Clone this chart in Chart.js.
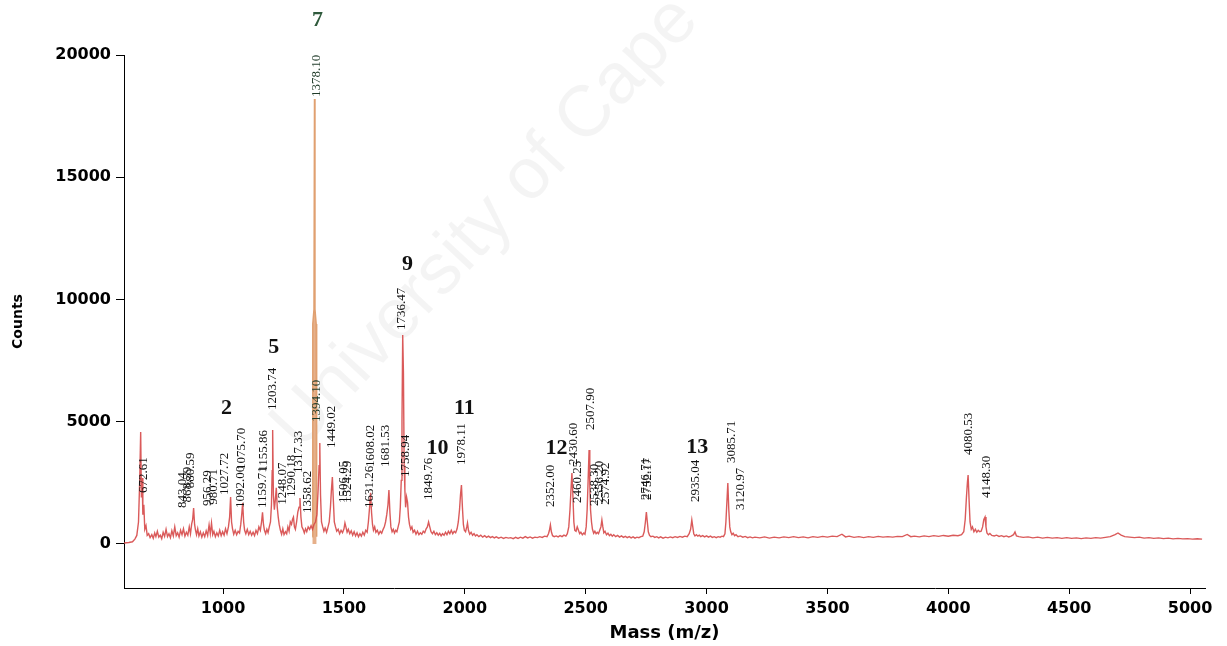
<!DOCTYPE html>
<html>
<head>
<meta charset="utf-8">
<script src="https://cdn.jsdelivr.net/npm/chart.js@4.4.1/dist/chart.umd.min.js"></script>
<style>
  body { margin: 0; background: #fff; }
  #wrap { width: 1227px; height: 646px; }
</style>
</head>
<body>
<div id="wrap"><canvas id="myChart" width="1227" height="646"></canvas></div>
<script>
// spectrum: [mass, counts]
var spectrum = [
  [590,40],[610,60],[625,90],[635,200],[643,350],[650,900],[655,2600],[659,4580],[662,1900],[665,2700],[668,1200],[672,1600],[676,600],[681,750],[686,350],[692,420],[698,260],
  [705,380],[711,230],[717,450],[722,300],[728,520],[734,280],[740,360],[746,220],[752,480],[758,310],[764,600],[770,300],[776,420],[782,260],[788,540],[794,330],[800,700],[806,340],[812,460],[818,280],[824,560],[830,380],[836,620],[842,320],[848,480],[854,360],[860,700],[865,420],[870,820],[874,1000],[878,1470],[882,800],[886,560],[890,380],[895,620],[900,330],[906,500],[912,280],[918,460],[924,300],[930,540],[936,350],[942,780],[947,420],[952,860],[957,380],[962,520],[968,300],[974,460],[980,330],[986,560],[992,340],[998,500],
  [1004,360],[1010,620],[1016,420],[1022,700],[1027,1100],[1031,1920],[1035,900],[1039,620],[1044,400],[1050,560],[1056,380],[1062,520],[1068,450],[1073,800],[1077,1200],[1081,1680],[1085,900],[1089,560],[1094,420],[1100,600],[1106,380],[1112,520],[1118,360],[1124,480],[1130,340],[1136,560],[1142,420],[1148,700],[1154,560],[1159,900],[1163,1300],[1167,800],[1171,560],[1176,420],[1181,600],[1186,460],[1191,700],[1196,900],
  [1200,1600],[1203,3000],[1205,4660],[1208,2000],[1212,1400],[1216,1800],[1220,2300],[1224,1500],[1228,1100],[1232,800],[1237,560],[1242,400],[1247,620],[1252,380],[1258,500],[1263,420],[1268,700],[1273,520],[1278,900],[1283,800],[1287,1000],[1291,1100],[1295,700],[1299,600],[1304,900],[1309,1300],[1314,1500],[1318,1880],[1322,1100],[1326,700],[1331,600],[1336,450],[1341,620],[1346,500],[1352,700],[1358,600],[1364,750],[1370,600],[1376,800],[1382,900],[1388,1200],[1393,2200],[1397,3200],
  [1400,4130],[1403,2000],[1407,900],[1412,700],[1417,520],[1422,650],[1428,480],[1434,700],[1439,900],[1444,1500],[1448,2200],[1452,2740],[1456,1800],[1460,900],[1465,700],[1470,520],[1476,600],[1482,420],[1488,560],[1494,460],[1500,620],[1504,860],[1508,700],[1513,480],[1518,600],[1524,420],[1530,540],[1536,360],[1542,500],[1548,330],[1554,460],[1560,300],[1566,420],[1572,320],[1578,480],[1584,360],[1590,560],[1596,480],
  [1601,900],[1606,1500],[1610,2090],[1614,1300],[1618,800],[1622,560],[1627,700],[1632,480],[1638,560],[1644,400],[1650,520],[1656,440],[1662,600],[1667,700],[1672,900],[1677,1200],[1682,1600],[1686,2210],[1690,1300],[1694,700],[1699,500],[1704,600],[1709,450],[1714,560],[1719,500],[1724,700],[1729,900],[1733,1500],[1737,2600],[1740,5000],[1743,8550],[1746,7000],[1749,3200],[1752,2200],[1755,1500],[1759,1920],[1763,1700],[1767,1100],[1771,800],[1776,600],[1781,700],[1786,480],[1792,560],[1798,400],
  [1804,520],[1810,380],[1816,460],[1822,400],[1828,520],[1834,460],[1840,620],[1845,700],[1850,900],[1855,700],[1860,500],[1866,420],[1872,520],[1878,380],[1884,460],[1890,360],[1896,440],[1902,330],[1908,420],[1914,360],[1920,480],[1926,380],[1932,520],[1938,420],[1944,560],[1950,420],[1956,520],[1962,460],[1968,620],[1973,900],[1978,1400],[1982,2000],[1986,2410],[1990,1500],[1994,800],[1998,560],
  [2003,500],[2008,700],[2011,860],[2015,560],[2020,400],[2026,480],[2032,360],[2038,420],[2044,330],[2050,380],[2058,300],[2066,360],[2074,280],[2082,340],[2090,270],[2098,320],[2106,260],[2114,300],[2122,250],[2130,290],[2140,240],[2150,280],[2160,230],[2170,270],[2180,240],[2190,260],[2200,220],[2210,270],[2220,230],[2230,280],[2240,240],[2250,300],[2260,250],[2270,290],[2280,240],[2290,280],[2300,260],[2310,300],[2320,270],[2330,320],[2340,300],[2346,420],[2350,560],[2354,780],[2358,500],[2363,340],[2370,300],[2378,330],[2386,290],[2394,340],
  [2402,300],[2410,360],[2418,320],[2424,420],[2430,700],[2435,1400],[2439,2200],[2443,2900],[2447,2000],[2451,900],[2455,560],[2460,520],[2465,700],[2470,560],[2475,420],[2480,480],[2486,380],[2492,450],[2497,400],[2502,700],[2506,1400],[2510,2600],[2514,3840],[2517,2400],[2520,1400],[2524,900],[2528,600],[2533,440],[2538,520],[2543,420],[2548,480],[2553,420],[2558,560],[2563,700],[2567,980],[2571,700],[2575,460],[2580,520],[2586,380],[2592,440],[2598,340],
  [2604,400],[2610,320],[2616,380],[2624,300],[2632,350],[2640,280],[2648,330],[2656,270],[2664,310],[2672,260],[2680,300],[2688,250],[2696,290],[2704,240],[2712,280],[2720,260],[2728,300],[2736,320],[2742,500],[2747,900],[2751,1310],[2755,900],[2759,500],[2764,350],[2770,300],[2778,320],[2786,270],[2794,300],
  [2802,250],[2810,290],[2820,240],[2830,280],[2840,250],[2850,290],[2860,260],[2870,300],[2880,270],[2890,310],[2900,280],[2910,320],[2920,300],[2928,420],[2934,600],[2939,980],[2943,700],[2947,420],[2952,330],[2958,380],[2964,320],[2970,360],[2976,300],[2984,340],[2992,290],
  [3000,330],[3008,280],[3016,320],[3024,270],[3032,300],[3040,260],[3048,300],[3056,280],[3064,320],[3070,300],[3076,420],[3080,900],[3084,1700],[3088,2490],[3092,1400],[3096,700],[3100,500],[3105,380],[3110,440],[3116,340],[3122,380],[3130,300],[3140,330],[3150,280],[3160,310],[3170,260],[3180,290],[3190,250],
  [3200,280],[3220,250],[3240,290],[3260,240],[3280,280],[3300,250],[3320,290],[3340,260],[3360,300],[3380,260],[3400,290],[3420,250],[3440,300],[3460,270],[3480,310],[3500,280],[3520,320],[3540,300],[3560,400],[3575,290],[3590,320],[3610,270],[3630,300],[3650,260],[3670,300],[3690,270],[3710,310],[3730,280],[3750,300],[3770,280],[3790,310],[3810,300],[3830,390],[3845,300],[3860,320],[3880,290],[3900,330],[3920,300],[3940,340],[3960,310],[3980,350],
  [4000,320],[4020,360],[4040,340],[4055,380],[4064,500],[4070,1000],[4075,1900],[4079,2500],[4082,2820],[4086,1800],[4090,900],[4095,600],[4100,700],[4106,500],[4112,600],[4118,480],[4124,560],[4130,500],[4136,520],[4142,700],[4147,1000],[4152,1100],[4156,700],[4160,450],[4166,380],[4172,430],[4180,350],[4190,330],[4200,360],[4210,310],[4220,340],[4230,300],[4240,330],[4250,290],[4260,320],[4270,380],[4276,490],[4282,330],[4292,300],
  [4310,270],[4330,290],[4350,250],[4370,280],[4390,240],[4410,270],[4430,240],[4450,260],[4470,230],[4490,260],[4510,230],[4530,250],[4550,220],[4570,250],[4590,230],[4610,260],[4630,240],[4650,270],[4670,300],[4690,380],[4702,450],[4715,360],[4730,300],[4750,280],[4770,260],[4790,280],[4810,240],[4830,260],[4850,230],[4870,250],[4890,220],[4910,240],[4930,210],[4950,230],[4970,210],[4990,220],[5010,200],[5030,215],[5050,200]
];

// the big peak at 1378.10 is drawn in a different colour
var mainPeak = [[1369,300],[1371,9000],[1376,9600],[1378.1,18200],[1380,9600],[1385,9000],[1387,300]];

var xTicks = [1000, 1500, 2000, 2500, 3000, 3500, 4000, 4500, 5000];
var yTicks = [0, 5000, 10000, 15000, 20000];

// peak labels: [text, mass, counts where the label starts]
var peakLabels = [
  ['672.61', 671, 2090], ['843.04', 833, 1470], ['868.59', 852, 1700], ['880.59', 866, 2280],
  ['956.29', 936, 1550], ['980.71', 961, 1600], ['1027.72', 1006, 2000],
  ['1092.00', 1072, 1470], ['1075.70', 1077, 3030], ['1159.71', 1163, 1470], ['1155.86', 1167, 2950],
  ['1203.74', 1205, 5480], ['1248.07', 1246, 1600], ['1290.18', 1283, 1920], ['1317.33', 1312, 2900],
  ['1358.62', 1349, 1270], ['1394.10', 1387, 4990], ['1449.02', 1449, 3930],
  ['1506.05', 1498, 1680], ['1524.29', 1515, 1680], ['1631.26', 1606, 1470], ['1608.02', 1610, 3150],
  ['1681.53', 1672, 3150], ['1736.47', 1738, 8750], ['1758.94', 1754, 2740], ['1849.76', 1850, 1800],
  ['1978.11', 1986, 3230], ['2352.00', 2354, 1510], ['2430.60', 2449, 3230], ['2460.25', 2465, 1680],
  ['2507.90', 2519, 4660], ['2538.30', 2536, 1550], ['2556.20', 2557, 1680], ['2574.92', 2581, 1600],
  ['2746.71', 2747, 1800], ['2752.17', 2755, 1800], ['2935.04', 2953, 1720], ['3085.71', 3102, 3310],
  ['3120.97', 3139, 1390], ['4080.53', 4082, 3640], ['4148.30', 4160, 1880], ['1378.10', 1387, 18280]
];

// compound numbers: [text, mass, counts at centre]
var compoundIds = [
  ['2', 1014, 5560], ['5', 1209, 8060], ['7', 1391, 21430], ['9', 1763, 11450],
  ['10', 1887, 3930], ['11', 1998, 5560], ['12', 2379, 3930], ['13', 2961, 3970]
];

function toPoints(arr) {
  return arr.map(function (p) { return { x: p[0], y: p[1] }; });
}

const annotate = {
  id: 'annotate',
  beforeDatasetsDraw: function (chart) {
    // faint watermark behind the trace
    var ctx = chart.ctx;
    ctx.save();
    ctx.translate(300, 452);
    ctx.rotate(-47 * Math.PI / 180);
    ctx.font = '72px "Liberation Sans"';
    ctx.fillStyle = 'rgba(0,0,0,0.045)';
    ctx.fillText('University of Cape Town', 0, 0);
    ctx.restore();
  },
  afterDatasetsDraw: function (chart) {
    var ctx = chart.ctx;
    var xs = chart.scales.x, ys = chart.scales.y;
    ctx.save();
    ctx.font = '13px "Liberation Serif"';
    ctx.textAlign = 'left';
    ctx.textBaseline = 'middle';
    for (var i = 0; i < peakLabels.length; i++) {
      var l = peakLabels[i];
      ctx.save();
      ctx.translate(xs.getPixelForValue(l[1]), ys.getPixelForValue(l[2]));
      ctx.rotate(-Math.PI / 2);
      ctx.fillStyle = (l[0] === '1378.10' || l[0] === '1394.10') ? '#1e3a28' : '#111';
      ctx.fillText(l[0], 0, 0);
      ctx.restore();
    }
    ctx.font = 'bold 22px "Liberation Serif"';
    ctx.textAlign = 'center';
    for (var j = 0; j < compoundIds.length; j++) {
      var c = compoundIds[j];
      ctx.fillStyle = c[0] === '7' ? '#2f5a3c' : '#111';
      ctx.fillText(c[0], xs.getPixelForValue(c[1]), ys.getPixelForValue(c[2]));
    }
    ctx.restore();
  }
};

const ctx = document.getElementById('myChart');

new Chart(ctx, {
  type: 'scatter',
  data: {
    datasets: [{
      data: toPoints(spectrum),
      showLine: true,
      borderColor: 'rgba(214,72,72,0.9)',
      borderWidth: 1.4,
      pointRadius: 0,
      tension: 0
    }, {
      data: toPoints(mainPeak),
      showLine: true,
      borderColor: '#e0a070',
      backgroundColor: '#e6b08a',
      fill: 'origin',
      borderWidth: 1.5,
      pointRadius: 0,
      tension: 0
    }]
  },
  options: {
    responsive: false,
    animation: false,
    layout: { padding: { top: 55, right: 22, bottom: 0, left: 0 } },
    plugins: { legend: { display: false }, tooltip: { enabled: false } },
    scales: {
      x: {
        type: 'linear',
        min: 590,
        max: 5062,
        afterBuildTicks: function (s) { s.ticks = xTicks.map(function (v) { return { value: v }; }); },
        afterFit: function (s) { s.height = 58; },
        grid: { drawOnChartArea: false, drawTicks: true, tickLength: 6, color: '#000' },
        border: { color: '#000', width: 1 },
        ticks: { color: '#000', padding: 5, maxRotation: 0, callback: function (v) { return String(v); }, font: { family: 'DejaVu Sans', weight: 'bold', size: 16 } },
        title: { display: true, text: 'Mass (m/z)', color: '#000', padding: { top: 0, bottom: 2 }, font: { family: 'DejaVu Sans', weight: 'bold', size: 18 } }
      },
      y: {
        min: -1800,
        max: 20000,
        afterBuildTicks: function (s) { s.ticks = yTicks.map(function (v) { return { value: v }; }); },
        afterFit: function (s) { s.width = 124; },
        grid: { drawOnChartArea: false, drawTicks: true, tickLength: 8, color: '#000' },
        border: { color: '#000', width: 1 },
        ticks: { color: '#000', padding: 5, callback: function (v) { return String(v); }, font: { family: 'DejaVu Sans', weight: 'bold', size: 16 } },
        title: { display: true, text: 'Counts', color: '#000', padding: { top: 10, bottom: 0 }, font: { family: 'DejaVu Sans', weight: 'bold', size: 14 } }
      }
    }
  },
  plugins: [annotate]
});
</script>
</body>
</html>
